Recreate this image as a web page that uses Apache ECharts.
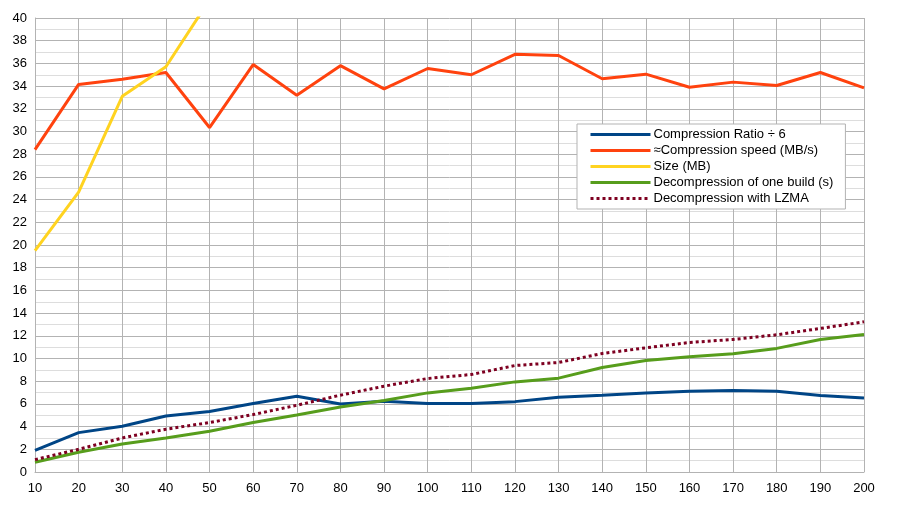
<!DOCTYPE html>
<html><head><meta charset="utf-8">
<script src="https://cdn.jsdelivr.net/npm/echarts@6/dist/echarts.min.js"></script>
<style>html,body{margin:0;padding:0;background:#fff}#c{width:900px;height:506px}</style>
</head><body><div id="c"></div>
<script>
const categories = [10,20,30,40,50,60,70,80,90,100,110,120,130,140,150,160,170,180,190,200];
const ratio = [1.91,3.47,4.03,4.94,5.33,6.03,6.68,6.0,6.24,6.03,6.03,6.2,6.59,6.77,6.97,7.12,7.18,7.12,6.74,6.53];
const speed = [28.4,34.15,34.6,35.2,30.35,35.9,33.2,35.8,33.75,35.55,35.0,36.8,36.7,34.65,35.05,33.9,34.35,34.05,35.2,33.85];
const size = [19.5,24.65,33.1,35.7,41.6,null,null,null,null,null,null,null,null,null,null,null,null,null,null,null];
const decomp = [0.86,1.74,2.47,3.0,3.59,4.36,5.03,5.73,6.3,6.97,7.38,7.94,8.27,9.21,9.83,10.15,10.41,10.89,11.68,12.12];
const lzma = [1.09,2.0,3.0,3.77,4.36,5.06,5.88,6.77,7.56,8.24,8.59,9.38,9.65,10.44,10.94,11.41,11.68,12.09,12.65,13.23];
const names = ['Compression Ratio ÷ 6','≈Compression speed (MB/s)','Size (MB)','Decompression of one build (s)','Decompression with LZMA'];

const font = '"Liberation Sans", Arial, sans-serif';
const chart = echarts.init(document.getElementById('c'), null, {renderer:'canvas'});
function ser(name, data, color, type){
  return {name, type:'line', data, symbol:'none', showSymbol:false, clip:true, animation:false,
    lineStyle:{color, width:3, type:type||'solid', cap:'butt'}, itemStyle:{color}};
}
chart.setOption({
  animation:false,
  backgroundColor:'#fff',
  textStyle:{fontFamily:font},
  grid:{left:35,right:36,top:18,bottom:34,containLabel:false},
  legend:{
    orient:'vertical', left:577, top:124, padding:[4,12,4,12],
    itemWidth:60, itemHeight:14, itemGap:3,
    borderColor:'#b3b3b3', borderWidth:1, borderRadius:0, backgroundColor:'#fff',
    itemStyle:{opacity:0},
    lineStyle:{width:3},
    textStyle:{fontFamily:font, fontSize:13, color:'#000', padding:[0,0,0,-2]},
    data:names
  },
  xAxis:{
    type:'category', data:categories, boundaryGap:false,
    axisLine:{show:true, lineStyle:{color:'#b3b3b3', width:1}},
    axisTick:{show:false},
    axisLabel:{color:'#000', fontSize:13, fontFamily:font, margin:10},
    splitLine:{show:true, lineStyle:{color:'#b3b3b3', width:1}}
  },
  yAxis:{
    type:'value', min:0, max:40, interval:2,
    axisLine:{show:true, lineStyle:{color:'#b3b3b3'}},
    axisTick:{show:false},
    axisLabel:{color:'#000', fontSize:13, fontFamily:font, margin:8},
    splitLine:{show:true, lineStyle:{color:'#b3b3b3', width:1}},
    minorTick:{show:false, splitNumber:2},
    minorSplitLine:{show:true, lineStyle:{color:'#dddddd', width:1}}
  },
  series:[
    ser(names[0], ratio, '#004586'),
    ser(names[1], speed, '#ff420e'),
    ser(names[2], size, '#ffd320'),
    ser(names[3], decomp, '#579d1c'),
    ser(names[4], lzma, '#7e0021', [3,3])
  ]
});
</script></body></html>
